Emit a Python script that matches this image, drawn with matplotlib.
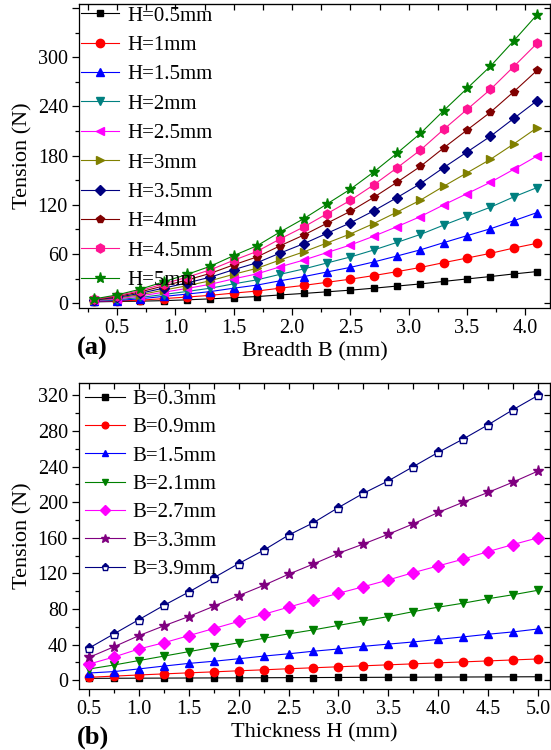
import matplotlib
matplotlib.use("Agg")
import matplotlib.pyplot as plt
from matplotlib.ticker import MultipleLocator

plt.rcParams['font.family'] = ['Liberation Serif', 'DejaVu Serif']
plt.rcParams['mathtext.fontset'] = 'stix'

# %% data, panel (a): tension vs breadth for several thicknesses
breadth = [0.3, 0.5, 0.7, 0.9, 1.1, 1.3, 1.5, 1.7, 1.9, 2.1,
           2.3, 2.5, 2.7, 2.9, 3.1, 3.3, 3.5, 3.7, 3.9, 4.1]
h_labels = ["H=0.5mm", "H=1mm", "H=1.5mm", "H=2mm", "H=2.5mm",
            "H=3mm", "H=3.5mm", "H=4mm", "H=4.5mm", "H=5mm"]
t_h05 = [1.5, 2.0, 2.4, 3.0, 4.0, 5.2, 6.6, 8.0, 10.0, 11.8,
         13.8, 15.8, 18.2, 20.8, 23.4, 26.5, 29.5, 32.4, 35.6, 38.5]
t_h10 = [2.0, 2.6, 3.6, 5.5, 7.4, 9.5, 12.2, 14.7, 18.3, 21.6,
         25.4, 29.2, 33.6, 38.4, 43.5, 49.4, 55.0, 60.7, 67.2, 73.0]
t_h15 = [2.4, 3.1, 5.3, 8.2, 11.0, 14.1, 18.2, 22.0, 27.3, 32.3,
         38.0, 43.6, 50.2, 57.5, 65.0, 73.8, 82.3, 90.7, 100.5, 110.5]
t_h20 = [2.8, 4.1, 6.9, 10.5, 14.2, 18.2, 23.5, 28.4, 35.2, 41.7,
         49.0, 56.3, 64.8, 74.1, 83.8, 95.2, 106.1, 117.0, 129.6, 141.0]
t_h25 = [3.2, 5.1, 8.7, 13.3, 17.9, 23.0, 29.6, 35.7, 44.4, 52.5,
         61.7, 70.9, 81.6, 93.3, 105.6, 119.9, 133.6, 147.4, 163.2, 179.5]
t_h30 = [3.5, 6.1, 10.3, 15.8, 21.2, 27.3, 35.2, 42.5, 52.8, 62.5,
         73.4, 84.4, 97.1, 111.1, 125.6, 142.6, 159.0, 175.4, 194.2, 214.0]
t_h35 = [3.8, 7.0, 12.0, 18.3, 24.6, 31.7, 40.8, 49.3, 61.2, 72.5,
         85.2, 97.9, 112.6, 128.8, 145.7, 165.4, 184.4, 203.5, 225.3, 247.0]
t_h40 = [4.2, 8.1, 13.7, 21.0, 28.2, 36.3, 46.7, 56.4, 70.1, 83.0,
         97.5, 112.0, 129.0, 147.5, 166.8, 189.4, 211.2, 232.9, 257.9, 284.0]
t_h45 = [4.6, 9.0, 15.3, 23.5, 31.6, 40.6, 52.3, 63.1, 78.5, 92.9,
         109.1, 125.4, 144.3, 165.1, 186.7, 212.0, 236.3, 260.7, 288.6, 317.0]
t_h50 = [5.0, 10.0, 17.0, 26.0, 35.0, 45.0, 58.0, 70.0, 87.0, 103.0,
         121.0, 139.0, 160.0, 183.0, 207.0, 235.0, 262.0, 289.0, 320.0, 352.0]
top_yticks = [0, 60, 120, 180, 240, 300, 360]
top_yticklabels = ["0", "60", "120", "180", "240", "300", ""]

# %% data, panel (b): tension vs thickness for several breadths
thickness = [0.5, 0.75, 1.0, 1.25, 1.5, 1.75, 2.0, 2.25, 2.5, 2.75,
             3.0, 3.25, 3.5, 3.75, 4.0, 4.25, 4.5, 4.75, 5.0]
b_labels = ["B=0.3mm", "B=0.9mm", "B=1.5mm", "B=2.1mm",
            "B=2.7mm", "B=3.3mm", "B=3.9mm"]
t_b03 = [2.0, 2.1, 2.2, 2.3, 2.4, 2.5, 2.6, 2.7, 2.8, 2.9,
         3.0, 3.1, 3.2, 3.3, 3.4, 3.5, 3.6, 3.7, 3.8]
t_b09 = [3.2, 4.5, 5.8, 7.0, 8.2, 9.3, 10.5, 11.6, 12.8, 13.9,
         15.0, 16.1, 17.2, 18.3, 19.4, 20.5, 21.6, 22.7, 23.8]
t_b15 = [8.0, 9.6, 12.6, 15.8, 18.8, 21.2, 24.0, 27.0, 29.6, 32.5,
         35.0, 38.0, 40.5, 42.9, 45.8, 48.6, 51.6, 54.2, 57.5]
t_b21 = [12.5, 17.0, 22.0, 27.0, 32.0, 37.0, 42.0, 47.0, 52.0, 56.5,
         61.5, 66.5, 71.5, 77.0, 82.0, 86.5, 91.5, 96.0, 101.0]
t_b27 = [18.0, 26.0, 35.0, 42.0, 50.0, 58.0, 66.0, 74.0, 82.0, 90.0,
         97.6, 105.0, 112.6, 120.8, 128.4, 136.0, 144.5, 152.4, 160.0]
t_b33 = [25.5, 37.5, 50.0, 61.0, 71.5, 83.0, 95.0, 106.5, 119.0, 130.6,
         142.6, 153.0, 164.0, 175.7, 188.5, 200.0, 211.0, 222.6, 235.0]
t_b39 = [36, 52, 68, 84, 99, 115, 131, 146, 163, 177,
         194, 210, 224, 240, 256, 271, 287, 304, 320]

top_series = [t_h05, t_h10, t_h15, t_h20, t_h25, t_h30, t_h35, t_h40, t_h45, t_h50]
top_colors = ['black', 'red', 'blue', '#008080', 'magenta', '#808000',
              '#000080', '#800000', '#ff1493', '#008000']
top_markers = ['s', 'o', '^', 'v', '<', '>', 'D', 'p', 'h', '*']
top_msize = [5, 6, 6, 6, 6, 6, 5, 6, 6.5, 8]

bot_series = [t_b03, t_b09, t_b15, t_b21, t_b27, t_b33, t_b39]
bot_colors = ['black', 'red', 'blue', '#008000', 'magenta', '#800080', '#000080']
bot_markers = ['s', 'o', '^', 'v', 'D', '*', 'p']
bot_msize = [5, 6, 6, 6, 6, 8, 6.5]


def style_axes(ax, xmaj, ymaj):
    ax.xaxis.set_major_locator(MultipleLocator(xmaj))
    ax.xaxis.set_minor_locator(MultipleLocator(xmaj / 2))
    ax.yaxis.set_minor_locator(MultipleLocator(ymaj / 2))
    ax.tick_params(which='major', direction='out', length=5, width=0.9, labelsize=14.5, pad=3)
    ax.tick_params(which='minor', direction='out', length=3, width=0.9)
    for s in ax.spines.values():
        s.set_linewidth(0.9)
    # inward mirror ticks on top and right
    sx = ax.secondary_xaxis('top')
    sx.xaxis.set_major_locator(MultipleLocator(xmaj))
    sx.xaxis.set_minor_locator(MultipleLocator(xmaj / 2))
    sx.tick_params(which='both', direction='in', length=4, width=0.9, labeltop=False)
    sy = ax.secondary_yaxis('right')
    sy.yaxis.set_major_locator(MultipleLocator(ymaj))
    sy.yaxis.set_minor_locator(MultipleLocator(ymaj / 2))
    sy.tick_params(which='both', direction='in', length=4, width=0.9, labelright=False)


fig = plt.figure(figsize=(5.51, 7.5), dpi=100)

# %% panel (a)
ax1 = fig.add_axes([0.1434, 0.5893, 0.8546, 0.4054])
for y, c, m, ms, lab in zip(top_series, top_colors, top_markers, top_msize, h_labels):
    ax1.plot(breadth, y, color=c, marker=m, markersize=ms, lw=0.8, label=lab)
ax1.set_xlim(0.174, 4.21)
ax1.set_ylim(-6, 365)
ax1.set_yticks(top_yticks, top_yticklabels)
style_axes(ax1, 0.5, 60)
ax1.set_xlabel("Breadth B (mm)", fontsize=16, labelpad=3)
ax1.set_ylabel("Tension (N)", fontsize=16, labelpad=4)
ax1.legend(loc='upper left', frameon=False, fontsize=15, handlelength=1.8,
           handletextpad=0.4, labelspacing=0.47, borderpad=0.0,
           borderaxespad=0.1)
fig.text(0.139, 0.527, "(a)", fontsize=19, fontweight='bold')

# %% panel (b)
ax2 = fig.add_axes([0.1434, 0.0813, 0.8546, 0.408])
for y, c, m, ms, lab in zip(bot_series, bot_colors, bot_markers, bot_msize, b_labels):
    if m == 'p':
        ax2.plot(thickness, y, color=c, marker=m, markersize=ms, lw=0.8,
                 fillstyle='top', markerfacecoloralt='white', label=lab)
    else:
        ax2.plot(thickness, y, color=c, marker=m, markersize=ms, lw=0.8, label=lab)
ax2.set_xlim(0.4, 5.12)
ax2.set_ylim(-10, 334)
ax2.yaxis.set_major_locator(MultipleLocator(40))
style_axes(ax2, 0.5, 40)
ax2.set_xlabel("Thickness H (mm)", fontsize=16, labelpad=3)
ax2.set_ylabel("Tension (N)", fontsize=16, labelpad=4)
ax2.legend(loc='upper left', frameon=False, fontsize=15, handlelength=1.9,
           handletextpad=0.35, labelspacing=0.42, borderpad=0.0,
           borderaxespad=0.3, markerscale=0.8)
fig.text(0.14, 0.008, "(b)", fontsize=19, fontweight='bold')

fig.savefig("out.png", dpi=100)
